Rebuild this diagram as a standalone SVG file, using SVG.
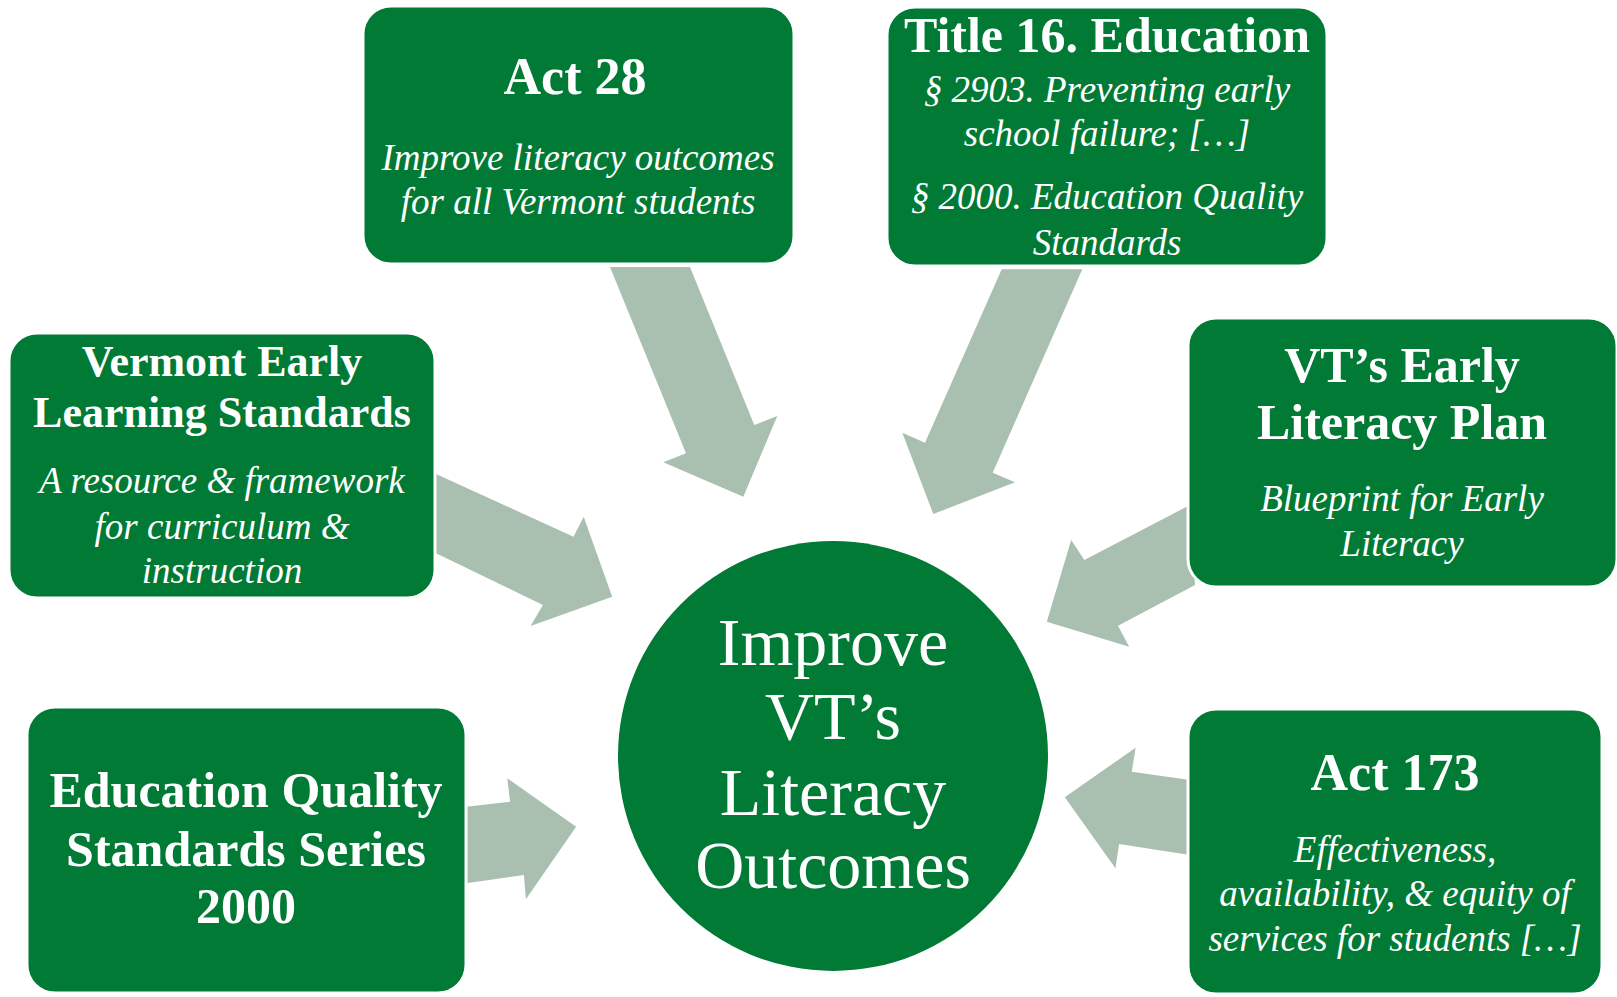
<svg xmlns="http://www.w3.org/2000/svg" width="1617" height="997" viewBox="0 0 1617 997">
<style>
.box{fill:#017A36;stroke:#ffffff;stroke-width:3}
.arrow{fill:#A9BFAF}
text{fill:#ffffff;font-family:"Liberation Serif","Times New Roman",serif;text-anchor:middle}
.h{font-weight:bold;font-size:50px}
.hs{font-weight:bold;font-size:44px}
.i{font-style:italic;font-size:37px}
.c{font-size:68px}
</style>
<rect width="1617" height="997" fill="#ffffff"/>
<g id="connectors">
<polygon class="arrow" points="610,267 690,267 754.3,425 777.3,416 743.3,496.7 663.3,462.3 686,453.3"/>
<polygon class="arrow" points="1001.7,269.3 1082.3,269.3 992.7,472.7 1015,482.3 933.3,514 902.3,432.7 925,442.7"/>
<polygon class="arrow" points="436,474 573.5,536.7 583.7,516.7 612.2,596.7 530.6,626 542.9,605 436,553.3"/>
<polygon class="arrow" points="1190,505 1084.3,560 1071.2,540 1046.8,621.7 1129.2,646.7 1118,625.7 1195,585"/>
<polygon class="arrow" points="1190,780 1131.8,771.7 1135.6,747.7 1064.8,797.3 1115.4,868.3 1119.1,844 1190,855"/>
<polygon class="arrow" points="466,806.7 510.1,801.7 507.3,778.3 576.1,826.7 525.9,899.3 523.9,875 466,883.3"/>
</g>
<g id="node-act28">
<rect class="box" x="363" y="6" width="431" height="258" rx="28"/>
<text class="h" x="575" y="94" style="font-size:52px">Act 28</text>
<text class="i" x="578" y="170">Improve literacy outcomes</text>
<text class="i" x="578" y="214">for all Vermont students</text>
</g>
<g id="node-title16">
<rect class="box" x="887" y="7" width="440" height="259" rx="28"/>
<text class="h" x="1107" y="52">Title 16. Education</text>
<text class="i" x="1107" y="102">§ 2903. Preventing early</text>
<text class="i" x="1107" y="146">school failure; […]</text>
<text class="i" x="1107" y="209">§ 2000. Education Quality</text>
<text class="i" x="1107" y="255">Standards</text>
</g>
<g id="node-vels">
<rect class="box" x="9" y="333" width="426" height="265" rx="28"/>
<text class="hs" x="222" y="376">Vermont Early</text>
<text class="hs" x="222" y="427">Learning Standards</text>
<text class="i" x="222" y="493">A resource &amp; framework</text>
<text class="i" x="222" y="539">for curriculum &amp;</text>
<text class="i" x="222" y="583">instruction</text>
</g>
<g id="node-literacy-plan">
<rect class="box" x="1188" y="318" width="429" height="269" rx="28"/>
<text class="h" x="1402" y="382">VT’s Early</text>
<text class="h" x="1402" y="439">Literacy Plan</text>
<text class="i" x="1402" y="511">Blueprint for Early</text>
<text class="i" x="1402" y="556">Literacy</text>
</g>
<g id="node-eqs">
<rect class="box" x="27" y="707" width="439" height="286" rx="28"/>
<text class="h" x="246" y="807">Education Quality</text>
<text class="h" x="246" y="866">Standards Series</text>
<text class="h" x="246" y="923">2000</text>
</g>
<g id="node-act173">
<rect class="box" x="1188" y="709" width="414" height="285" rx="28"/>
<text class="h" x="1395" y="790" style="font-size:52px">Act 173</text>
<text class="i" x="1395" y="862">Effectiveness,</text>
<text class="i" x="1395" y="906">availability, &amp; equity of</text>
<text class="i" x="1395" y="951">services for students […]</text>
</g>
<g id="node-center">
<circle cx="833" cy="756" r="215" fill="#017A36"/>
<text class="c" x="833" y="665">Improve</text>
<text class="c" x="833" y="739">VT’s</text>
<text class="c" x="833" y="815">Literacy</text>
<text class="c" x="833" y="888">Outcomes</text>
</g>
</svg>
